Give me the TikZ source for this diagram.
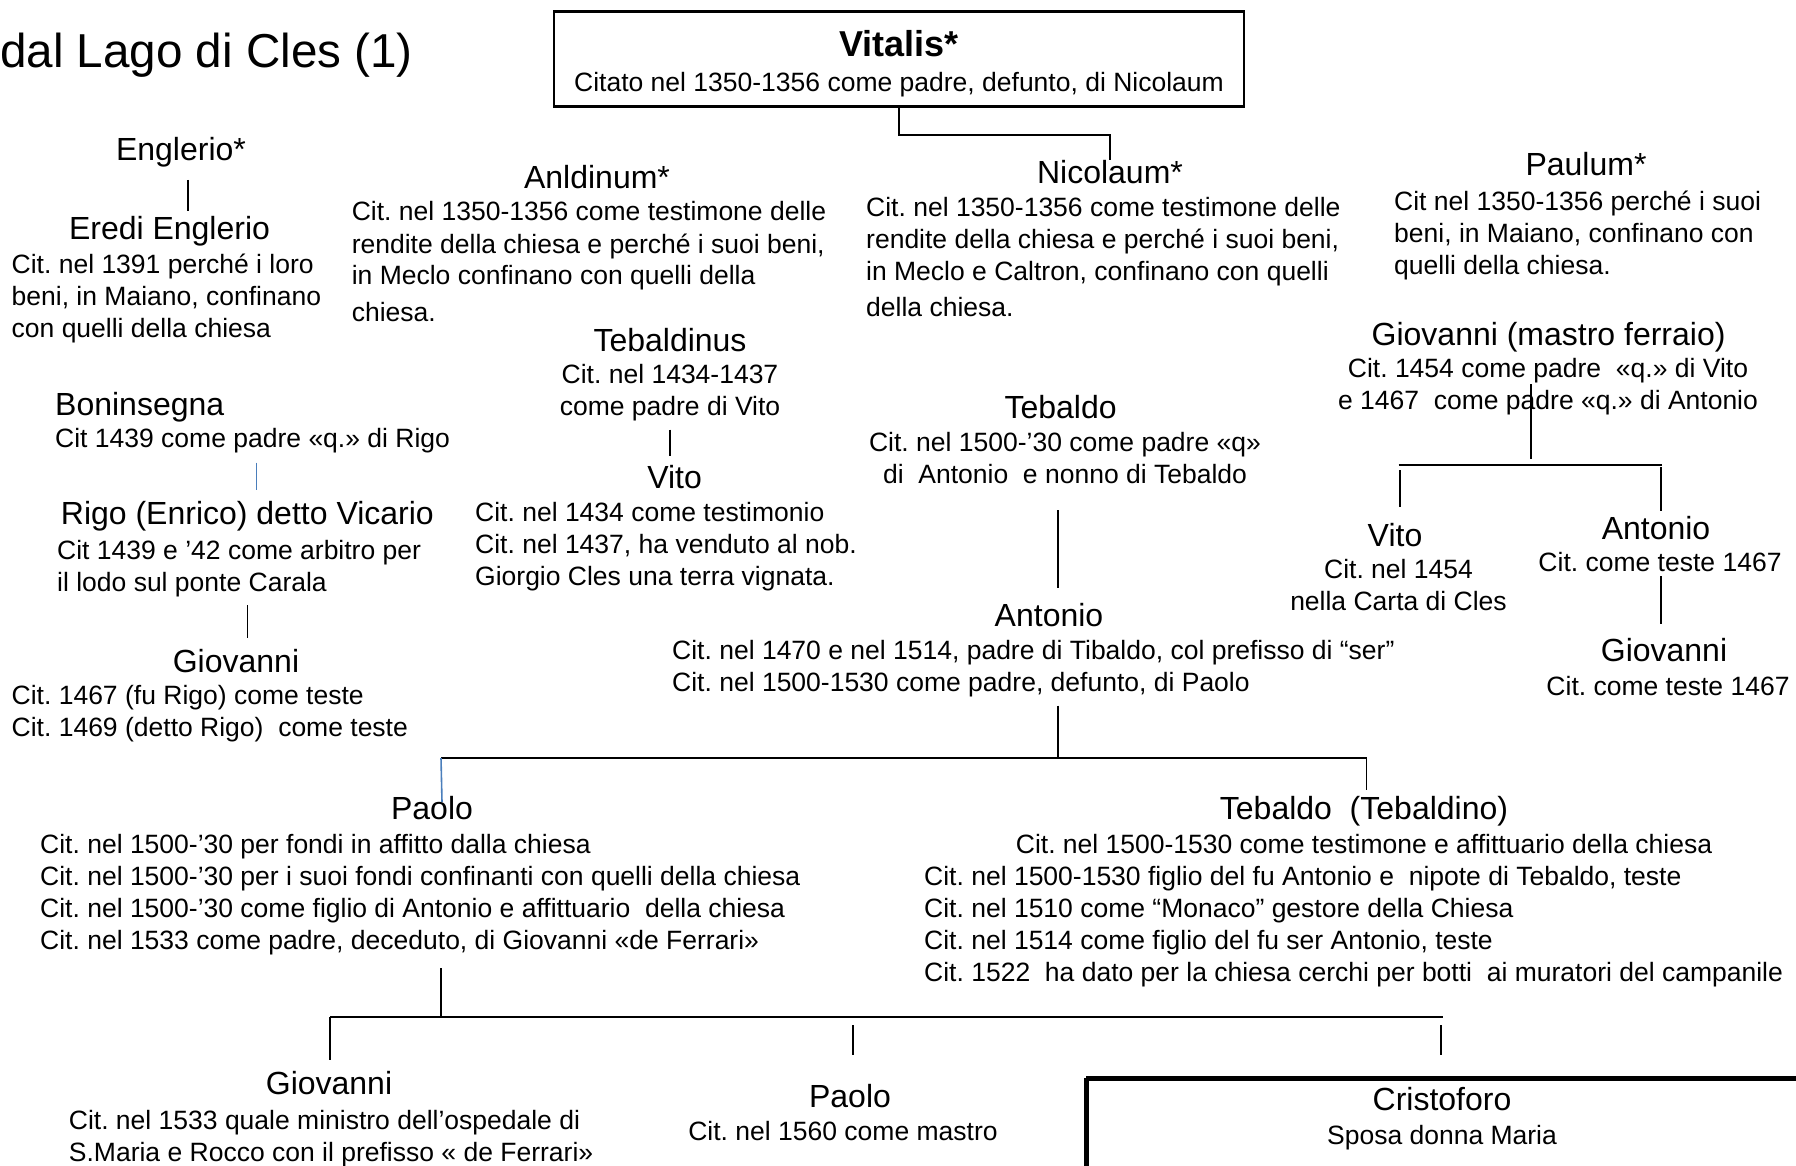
\documentclass[tikz,border=0pt]{standalone}
\usepackage{fontspec}
\setmainfont{Liberation Sans}
\usetikzlibrary{positioning}
\frenchspacing

\definecolor{linkblue}{HTML}{4A7EBB}
\newcommand{\bodyfont}{\fontsize{26.5}{32}\selectfont}
\newcommand{\namefont}{\fontsize{32}{38}\selectfont}
\newcommand{\titlefont}{\fontsize{47.6}{56}\selectfont}
\newcommand{\thin}{1.6pt}
\newcommand{\thick}{2.5pt}

\tikzset{
  person/.style={font=\namefont, inner sep=0pt, anchor=base},
  citetext/.style={font=\bodyfont, inner sep=0pt, align=left, anchor=base west},
  citecenter/.style={font=\bodyfont, inner sep=0pt, align=center, anchor=base}
}

\begin{document}
\begin{tikzpicture}[x=1pt,y=-1pt]
\useasboundingbox (0,0) rectangle (1796,1166);

\node [font=\titlefont, inner sep=0pt, anchor=base west] (title) at (0,67.5) {dal Lago di Cles (1)};

\draw [line width=\thick] (554,11.5) rectangle (1244,106.5);
\node [font=\fontsize{36}{42}\selectfont\bfseries, inner sep=0pt, anchor=base] (vitalis) at (899,57) {Vitalis*};
\node [citecenter] (vitalisC) at (899,91.5) {Citato nel 1350-1356 come padre, defunto, di Nicolaum};

% prima generazione (base = ultima riga)
\node [person] (englerio) at (181,161) {Englerio*};
\node [person] (eredi) at (169.5,240) {Eredi Englerio};
\node [citetext] (erediC) at (11.5,337.6) {Cit. nel 1391 perché i loro\\beni, in Maiano, confinano\\con quelli della chiesa};

\node [person] (anldinum) at (597,188.5) {Anldinum*};
\node [citetext] (anldinumC) at (351.6,321.7) {Cit. nel 1350-1356 come testimone delle\\rendite della chiesa e perché i suoi beni,\\in Meclo confinano con quelli della\\[4.7pt]chiesa.};

\node [person] (nicolaum) at (1110,184) {Nicolaum*};
\node [citetext] (nicolaumC) at (866,316.8) {Cit. nel 1350-1356 come testimone delle\\rendite della chiesa e perché i suoi beni,\\in Meclo e Caltron, confinano con quelli\\[4.5pt]della chiesa.};

\node [person] (paulum) at (1586,176) {Paulum*};
\node [citetext] (paulumC) at (1394,274.6) {Cit nel 1350-1356 perché i suoi\\beni, in Maiano, confinano con\\quelli della chiesa.};

% ramo centrale
\node [person] (tebaldinus) at (670,351) {Tebaldinus};
\node [citecenter] (tebaldinusC) at (670,415.5) {Cit. nel 1434-1437\\come padre di Vito};
\node [person] (vito) at (674.6,488.6) {Vito};
\node [citetext] (vitoC) at (475,585) {Cit. nel 1434 come testimonio\\Cit. nel 1437, ha venduto al nob.\\Giorgio Cles una terra vignata.};

\node [person, anchor=base west] (boninsegna) at (55,415) {Boninsegna};
\node [citetext] (boninsegnaC) at (55,447.7) {Cit 1439 come padre «q.» di Rigo};
\node [person, anchor=base west] (rigo) at (60.7,524) {Rigo (Enrico) detto Vicario};
\node [citetext] (rigoC) at (57,591) {Cit 1439 e ’42 come arbitro per\\il lodo sul ponte Carala};
\node [person] (giovanniR) at (236,672) {Giovanni};
\node [citetext] (giovanniRC) at (11.5,736) {Cit. 1467 (fu Rigo) come teste\\Cit. 1469 (detto Rigo)~ come teste};

\node [person] (tebaldo) at (1060.6,418.8) {Tebaldo};
\node [citecenter] (tebaldoC) at (1065,483) {Cit. nel 1500-’30 come padre «q»\\di~ Antonio~ e nonno di Tebaldo};
\node [person] (antonio) at (1049,626) {Antonio};
\node [citetext] (antonioC) at (672,691.6) {Cit. nel 1470 e nel 1514, padre di Tibaldo, col prefisso di “ser”\\Cit. nel 1500-1530 come padre, defunto, di Paolo};

\node [person] (paolo) at (432,819.6) {Paolo};
\node [citetext] (paoloC) at (40,949) {Cit. nel 1500-’30 per fondi in affitto dalla chiesa\\Cit. nel 1500-’30 per i suoi fondi confinanti con quelli della chiesa\\Cit. nel 1500-’30 come figlio di Antonio e affittuario~ della chiesa\\Cit. nel 1533 come padre, deceduto, di Giovanni «de Ferrari»};

\node [person] (tebaldino) at (1364,819.6) {Tebaldo~ (Tebaldino)};
\node [citecenter] (tebaldinoC) at (1364,853) {Cit. nel 1500-1530 come testimone e affittuario della chiesa};
\node [citetext] (tebaldinoD) at (924,981) {Cit. nel 1500-1530 figlio del fu Antonio e~ nipote di Tebaldo, teste\\Cit. nel 1510 come “Monaco” gestore della Chiesa\\Cit. nel 1514 come figlio del fu ser Antonio, teste\\Cit. 1522~ ha dato per la chiesa cerchi per botti~ ai muratori del campanile};

\node [person] (giovanniF) at (329,1094.6) {Giovanni};
\node [citetext] (giovanniFC) at (68.7,1161) {Cit. nel 1533 quale ministro dell’ospedale di\\S.Maria e Rocco con il prefisso « de Ferrari»};
\node [person] (paoloM) at (850,1107) {Paolo};
\node [citecenter] (paoloMC) at (843,1140.6) {Cit. nel 1560 come mastro};

\draw [line width=5pt] (1086,1078) -- (1900,1078) (1086,1078) -- (1086,1250);
\node [person] (cristoforo) at (1442,1110.6) {Cristoforo};
\node [citecenter] (cristoforoC) at (1442,1144) {Sposa donna Maria};

% ramo destro
\node [person] (giovanniM) at (1548.6,345.5) {Giovanni (mastro ferraio)};
\node [citecenter] (giovanniMC) at (1548,409.8) {Cit. 1454 come padre~ «q.» di Vito\\e 1467~ come padre «q.» di Antonio};
\node [person] (vitoM) at (1395,546) {Vito};
\node [citecenter] (vitoMC) at (1398.5,610) {Cit. nel 1454\\nella Carta di Cles};
\node [person] (antonioM) at (1656,539) {Antonio};
\node [citecenter] (antonioMC) at (1660,571) {Cit. come teste 1467};
\node [person] (giovanniT) at (1664,661.6) {Giovanni};
\node [citecenter] (giovanniTC) at (1668,695) {Cit. come teste 1467};

\coordinate (A1) at (899,106.5);
\coordinate (A2) at (899,135);
\coordinate (A3) at (1110,135);
\coordinate (A4) at (1110,160);

\coordinate (B1) at (188,180);
\coordinate (B2) at (188,211);
\coordinate (B3) at (670,429.5);
\coordinate (B4) at (670,456);
\coordinate (B5) at (256.6,462.7);
\coordinate (B6) at (256.6,490);
\coordinate (B7) at (247.4,605);
\coordinate (B8) at (247.4,638);

\coordinate (C1) at (1058,510);
\coordinate (C2) at (1058,588);
\coordinate (C3) at (1058,705.6);
\coordinate (C4) at (1058,758);
\coordinate (C5) at (441,758);
\coordinate (C6) at (1366.5,758);
\coordinate (C7) at (442,802);
\coordinate (C8) at (1366.5,790);

\coordinate (D1) at (441,968);
\coordinate (D2) at (441,1017);
\coordinate (D3) at (330,1017);
\coordinate (D4) at (1443,1017);
\coordinate (D5) at (330,1059.5);
\coordinate (D6) at (853,1025);
\coordinate (D7) at (853,1055);
\coordinate (D8) at (1441,1025);
\coordinate (D9) at (1441,1055);

\coordinate (E1) at (1531,384);
\coordinate (E2) at (1531,459);
\coordinate (E3) at (1398.5,465);
\coordinate (E4) at (1662,465);
\coordinate (E5) at (1400,470);
\coordinate (E6) at (1400,507);
\coordinate (E7) at (1661,467);
\coordinate (E8) at (1661,511);
\coordinate (E9) at (1661,576);
\coordinate (E10) at (1661,624);

\draw [line width=\thin] (A1) -- (A2) -- (A3) -- (A4);
\draw [line width=\thin] (B1) -- (B2) (B3) -- (B4) (B7) -- (B8);
\draw [line width=\thin, color=linkblue] (B5) -- (B6);

\draw [line width=\thin] (C1) -- (C2) (C3) -- (C4) (C6) -- (C8);
\draw [line width=\thick] (C5) -- (C6);
\draw [line width=\thin, color=linkblue] (C5) -- (C7);

\draw [line width=\thin] (D1) -- (D2) (D3) -- (D5) (D6) -- (D7) (D8) -- (D9);
\draw [line width=\thick] (D3) -- (D4);

\draw [line width=\thin] (E1) -- (E2) (E5) -- (E6) (E7) -- (E8) (E9) -- (E10);
\draw [line width=\thick] (E3) -- (E4);

\end{tikzpicture}
\end{document}
